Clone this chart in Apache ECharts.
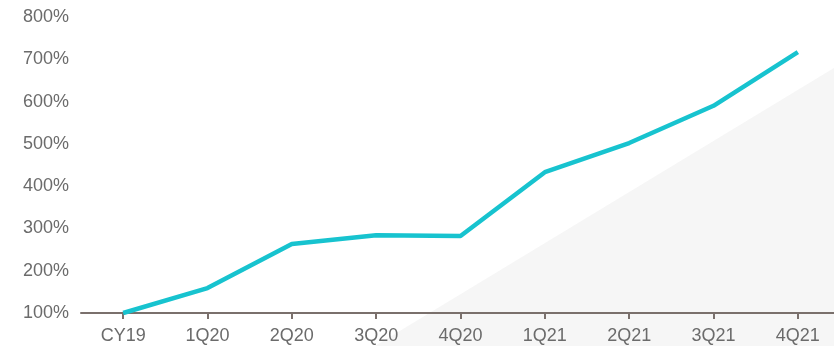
<!DOCTYPE html>
<html>
<head>
<meta charset="utf-8">
<script src="https://cdn.jsdelivr.net/npm/echarts@6/dist/echarts.min.js"></script>
<style>
html,body{margin:0;padding:0;background:#fff;}
#chart{width:834px;height:346px;}
</style>
</head>
<body>
<div id="chart"></div>
<script>
const categories = ['CY19','1Q20','2Q20','3Q20','4Q20','1Q21','2Q21','3Q21','4Q21'];
const growthValues = [100, 159, 263, 284, 282, 433, 502, 590, 717];
const yTicks = [100, 200, 300, 400, 500, 600, 700, 800];

const chart = echarts.init(document.getElementById('chart'));
const font = '"Liberation Sans", Arial, sans-serif';
chart.setOption({
  animation: false,
  backgroundColor: '#ffffff',
  graphic: [{
    type: 'polygon',
    z: -10,
    silent: true,
    shape: { points: [[375, 346], [834, 68], [834, 346]] },
    style: { fill: '#f6f6f6' }
  }],
  grid: { left: 81, width: 759, top: 17, bottom: 33, containLabel: false, outerBoundsMode: 'none' },
  xAxis: {
    type: 'category',
    data: categories,
    boundaryGap: true,
    axisLine: { show: true, lineStyle: { color: '#7a706c', width: 2 } },
    axisTick: { show: true, alignWithLabel: true, length: 6, lineStyle: { color: '#7a706c', width: 2 } },
    axisLabel: { color: '#6b6b6b', fontSize: 18, fontFamily: font, margin: 14 },
    splitLine: { show: false }
  },
  yAxis: {
    type: 'value',
    min: yTicks[0],
    max: yTicks[yTicks.length - 1],
    interval: 100,
    axisLine: { show: false },
    axisTick: { show: false },
    splitLine: { show: false },
    axisLabel: { color: '#6b6b6b', fontSize: 18, fontFamily: font, margin: 12, formatter: '{value}%' }
  },
  series: [{
    type: 'line',
    data: growthValues,
    symbol: 'none',
    lineStyle: { color: '#17c3cf', width: 4.5 },
    z: 5
  }]
});
</script>
</body>
</html>
